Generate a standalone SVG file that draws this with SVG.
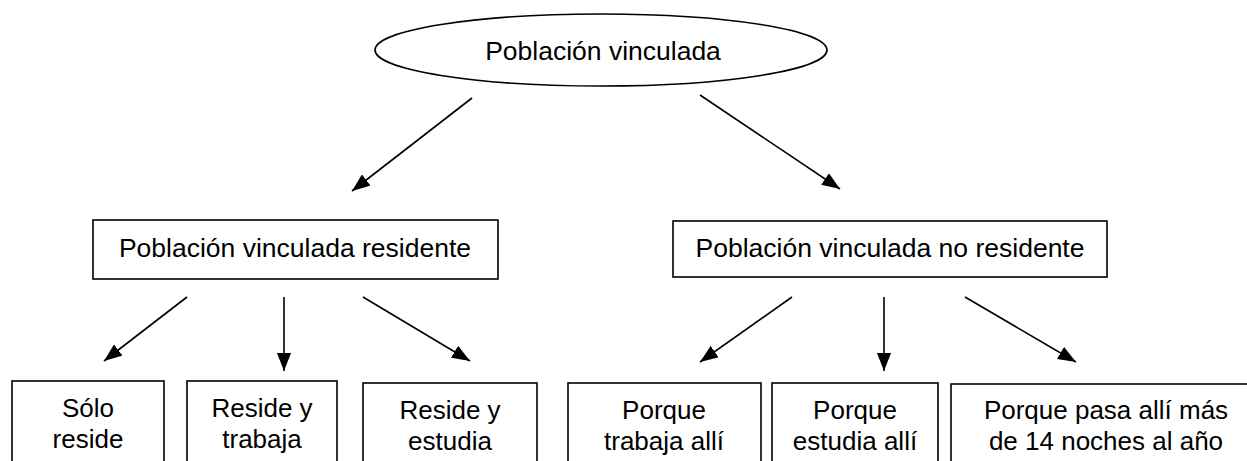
<svg xmlns="http://www.w3.org/2000/svg" width="1247" height="461" viewBox="0 0 1247 461">
<defs>
<style>
.box{fill:#fff;stroke:#000;stroke-width:1.6}
.t{font-family:"Liberation Sans",Arial,sans-serif;font-size:26px;fill:#000;text-anchor:middle}
.tl{font-size:26.5px}
.c{stroke:#000;stroke-width:1.6;fill:none;marker-end:url(#ah)}
</style>
<marker id="ah" viewBox="0 0 18 14" refX="18" refY="7" markerWidth="18" markerHeight="14" markerUnits="userSpaceOnUse" orient="auto">
<path d="M0,0 L18,7 L0,14 Z" fill="#000"/>
</marker>
</defs>
<rect width="1247" height="461" fill="#fff"/>
<g id="connectors">
<line class="c" x1="472" y1="98" x2="352" y2="191"/>
<line class="c" x1="700" y1="95" x2="840" y2="189"/>
<line class="c" x1="187" y1="297" x2="104" y2="361"/>
<line class="c" x1="284" y1="297" x2="284" y2="371"/>
<line class="c" x1="363" y1="297" x2="470" y2="361"/>
<line class="c" x1="792" y1="297" x2="700" y2="362"/>
<line class="c" x1="884" y1="297" x2="884" y2="371"/>
<line class="c" x1="965" y1="297" x2="1076" y2="362"/>
</g>
<g id="n-root">
<ellipse class="box" cx="601" cy="50" rx="226" ry="36"/>
<text class="t tl" x="603" y="60">Población vinculada</text>
</g>
<g id="n-residente">
<rect class="box" x="93" y="220" width="405" height="59"/>
<text class="t tl" x="295" y="257">Población vinculada residente</text>
</g>
<g id="n-noresidente">
<rect class="box" x="673" y="221" width="434" height="56"/>
<text class="t tl" x="890" y="257">Población vinculada no residente</text>
</g>
<g id="n-solo">
<rect class="box" x="12" y="381" width="152" height="100"/>
<text class="t" x="88" y="417">Sólo</text>
<text class="t" x="88" y="448">reside</text>
</g>
<g id="n-trabaja">
<rect class="box" x="187" y="381" width="150" height="100"/>
<text class="t" x="262" y="417">Reside y</text>
<text class="t" x="262" y="448">trabaja</text>
</g>
<g id="n-estudia">
<rect class="box" x="363" y="383" width="174" height="100"/>
<text class="t" x="450" y="419">Reside y</text>
<text class="t" x="450" y="450">estudia</text>
</g>
<g id="n-trabaja-alli">
<rect class="box" x="568" y="383" width="193" height="100"/>
<text class="t" x="664" y="419">Porque</text>
<text class="t" x="664" y="450">trabaja allí</text>
</g>
<g id="n-estudia-alli">
<rect class="box" x="772" y="383" width="166" height="100"/>
<text class="t" x="855" y="419">Porque</text>
<text class="t" x="855" y="450">estudia allí</text>
</g>
<g id="n-noches">
<rect class="box" x="951" y="384" width="300" height="100"/>
<text class="t" x="1106" y="419">Porque pasa allí más</text>
<text class="t" x="1106" y="450">de 14 noches al año</text>
</g>
</svg>
